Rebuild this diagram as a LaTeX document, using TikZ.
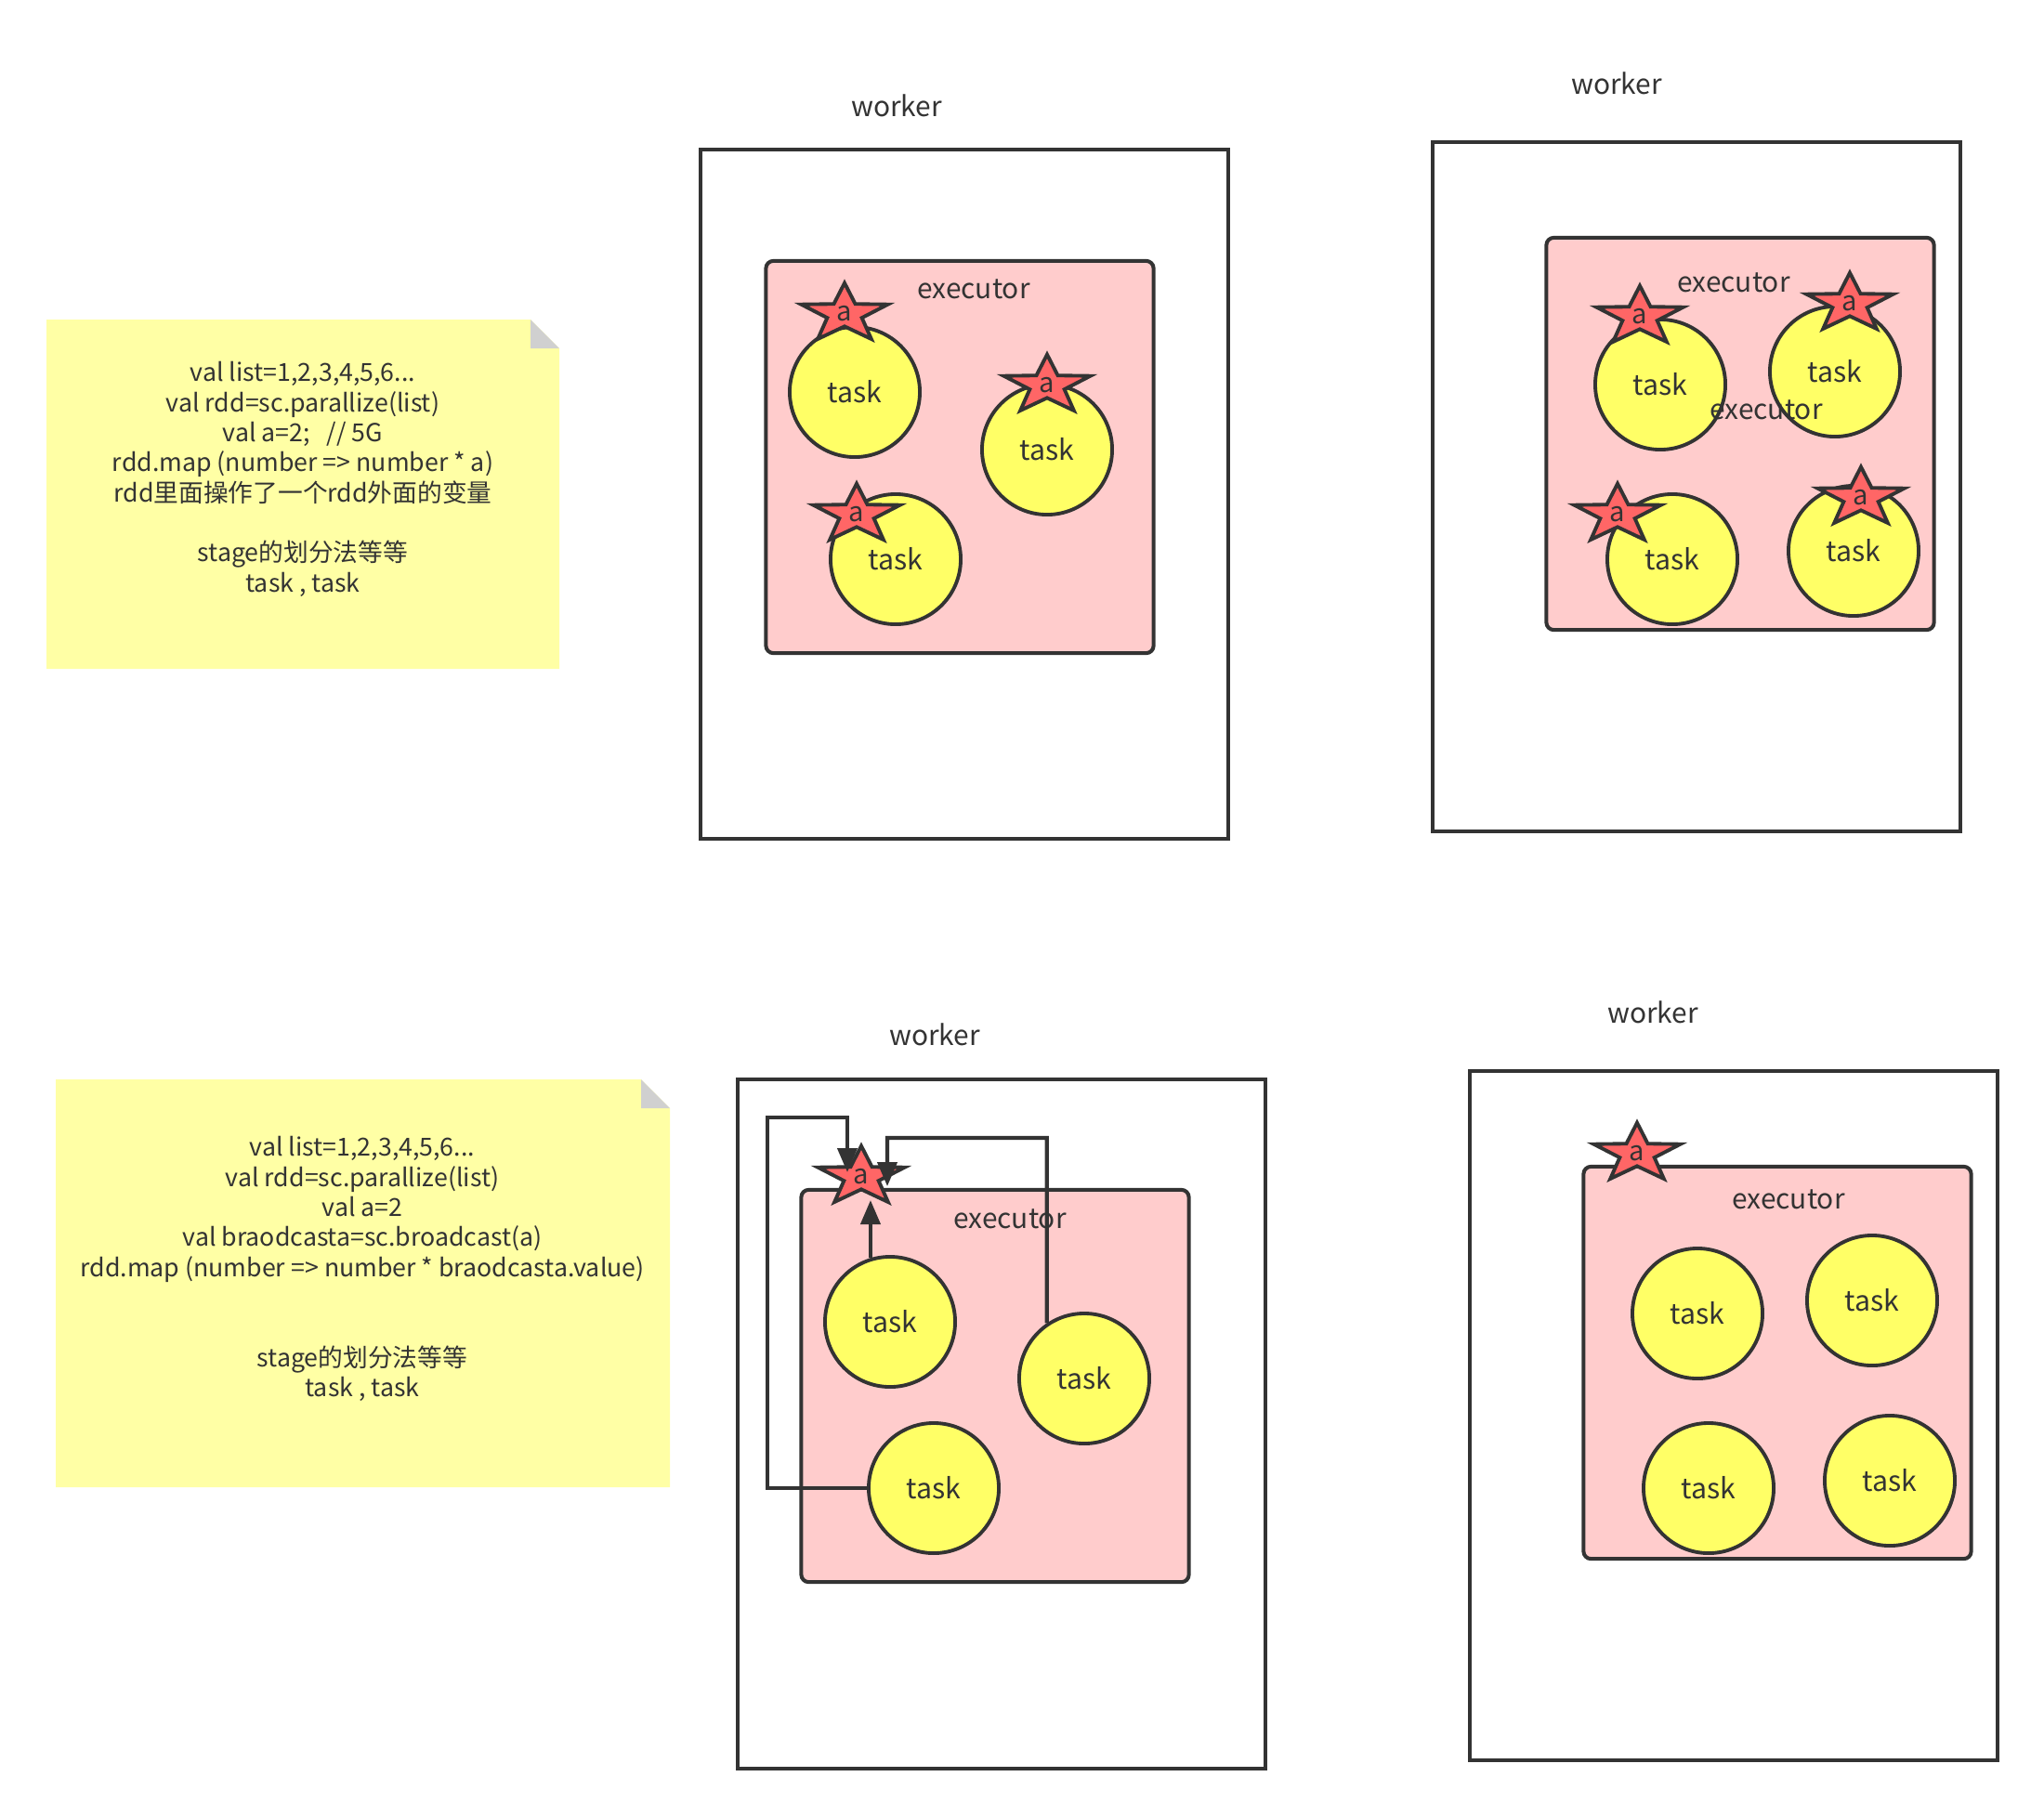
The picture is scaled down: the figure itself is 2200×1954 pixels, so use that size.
\documentclass[tikz,border=0pt]{standalone}
\usepackage{fontspec}
\setmainfont{Noto Sans CJK SC}
\usetikzlibrary{shapes.geometric,arrows.meta}
\definecolor{linec}{HTML}{333333}
\definecolor{execpink}{HTML}{FFCCCC}
\definecolor{taskyellow}{HTML}{FFFF66}
\definecolor{starred}{HTML}{FF6666}
\definecolor{notefill}{HTML}{FFFFA5}
\definecolor{foldgray}{HTML}{D0D0D0}
\newcommand{\staratext}{\scalebox{1}[1.47]{a}}
\begin{document}
\begin{tikzpicture}[
    x=0.01cm, y=-0.01cm,
    worker/.style={draw=linec, line width=1.15pt, minimum width=5.67cm, minimum height=7.42cm, inner sep=0pt},
    exec/.style={draw=linec, fill=execpink, line width=1.15pt, rounded corners=0.8mm, minimum width=4.17cm, minimum height=4.22cm, inner sep=0pt},
    task/.style={circle, draw=linec, fill=taskyellow, line width=1.1pt, minimum size=1.4cm, inner sep=0pt, font=\fontsize{8.6}{10}\selectfont, text=linec},
    astar/.style={star, star points=5, star point ratio=2.5, draw=linec, fill=starred, line width=1.1pt, minimum size=0.98cm, inner sep=0pt, yscale=0.68, transform shape, font=\fontsize{8.3}{10}\selectfont, text=linec},
    lbl/.style={font=\fontsize{8.5}{10}\selectfont, text=linec},
    note/.style={align=center, font=\fontsize{7.6}{9.2}\selectfont, text=linec},
    arrow/.style={-{Triangle[length=2.6mm,width=2.1mm]}, draw=linec, line width=1.15pt}
]
    \useasboundingbox (0,0) rectangle (2200,1954);

    % 便签 1
    \fill[notefill] (50,344) -- (571,344) -- (602,375) -- (602,720) -- (50,720) -- cycle;
    \fill[foldgray] (571,344) -- (571,375) -- (602,375) -- cycle;
    \node[note] (note1) at (326,516) {val list=1,2,3,4,5,6...\\val rdd=sc.parallize(list)\\val a=2;\ \ \ // 5G\\rdd.map (number => number * a)\\rdd里面操作了一个rdd外面的变量\\[9.2pt]stage的划分法等等\\task , task};

    % 便签 2
    \fill[notefill] (60,1162) -- (690,1162) -- (721,1193) -- (721,1601) -- (60,1601) -- cycle;
    \fill[foldgray] (690,1162) -- (690,1193) -- (721,1193) -- cycle;
    \node[note] (note2) at (390,1366) {val list=1,2,3,4,5,6...\\val rdd=sc.parallize(list)\\val a=2\\val braodcasta=sc.broadcast(a)\\rdd.map (number => number * braodcasta.value)\\[18.4pt]stage的划分法等等\\task , task};

    % 左上 worker
    \node[worker] (w1) at (1038,532) {};
    \node[lbl] (w1t) at (965,114) {worker};
    \node[exec] (e1) at (1033,492) {};
    \node[lbl] (e1t) at (1048,311) {executor};
    \node[task] (t11) at (920,422) {task};
    \node[task] (t12) at (1127,484) {task};
    \node[task] (t13) at (964,602) {task};
    \node[astar] (s11) at (909,338) {\staratext};
    \node[astar] (s12) at (1127,415) {\staratext};
    \node[astar] (s13) at (922,554) {\staratext};

    % 右上 worker
    \node[worker] (w2) at (1826,524) {};
    \node[lbl] (w2t) at (1740,90) {worker};
    \node[exec] (e2) at (1873,467) {};
    \node[lbl] (e2t) at (1866,304) {executor};
    \node[task] (t21) at (1787,414) {task};
    \node[task] (t22) at (1975,400) {task};
    \node[task] (t23) at (1800,602) {task};
    \node[task] (t24) at (1995,593) {task};
    \node[astar] (s21) at (1765,341) {\staratext};
    \node[astar] (s22) at (1991,327) {\staratext};
    \node[astar] (s23) at (1741,554) {\staratext};
    \node[astar] (s24) at (2003,536) {\staratext};
    \node[lbl] (e2t2) at (1901,441) {executor};

    % 左下 worker, 广播变量
    \node[worker] (w3) at (1078,1533) {};
    \node[lbl] (w3t) at (1006,1114) {worker};
    \node[exec] (e3) at (1071,1492) {};
    \node[lbl] (e3t) at (1087,1312) {executor};
    \node[task] (bt1) at (958,1423) {task};
    \node[task] (bt2) at (1167,1484) {task};
    \node[task] (bt3) at (1005,1602) {task};
    \node[astar] (bs) at (927,1267) {\staratext};

    % 右下 worker
    \node[worker] (w4) at (1866,1524) {};
    \node[lbl] (w4t) at (1779,1090) {worker};
    \node[exec] (e4) at (1913,1467) {};
    \node[lbl] (e4t) at (1925,1291) {executor};
    \node[task] (t41) at (1827,1414) {task};
    \node[task] (t42) at (2015,1400) {task};
    \node[task] (t43) at (1839,1602) {task};
    \node[task] (t44) at (2034,1594) {task};
    \node[astar] (s4) at (1762,1242) {\staratext};

    % task 读取广播变量
    \coordinate (cA) at (826,1203);
    \coordinate (inA) at ([xshift=-0.15cm,yshift=0.05cm]bs.center);
    \coordinate (cB) at (955,1225);
    \coordinate (inB) at ([xshift=0.28cm,yshift=-0.1cm]bs.center);
    \coordinate (inC) at ([yshift=-0.25cm]bs.center);
    \draw[arrow] (bt3.west) -| (cA) -| (inA);
    \draw[arrow] (bt2.124) |- (cB) -- (inB);
    \draw[arrow] (bt1.107) -- (bt1.107 |- inC);
\end{tikzpicture}
\end{document}
